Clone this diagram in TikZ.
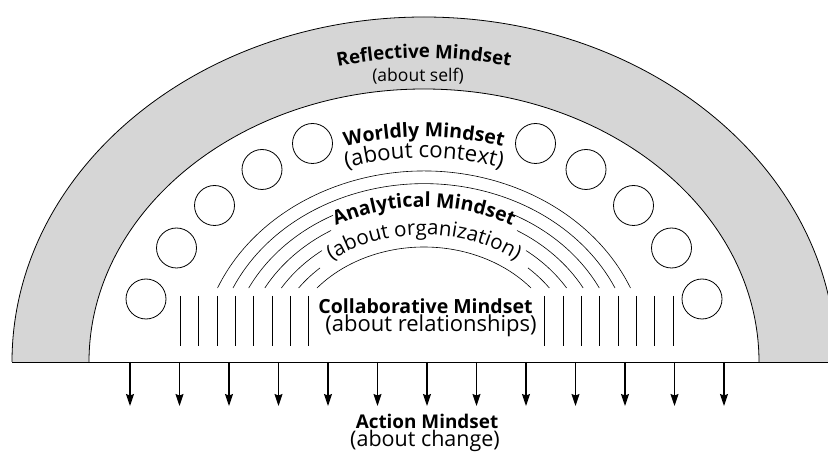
\documentclass[tikz,border=0pt]{standalone}
\usepackage{fontspec}
\setmainfont{Open Sans}
\usetikzlibrary{decorations.text,arrows.meta}
\newcommand\mindB{\bfseries\fontsize{19.5}{21}\selectfont}
\newcommand\mindBr{\bfseries\fontsize{18.7}{21}\selectfont}
\newcommand\mindBa{\bfseries\fontsize{18.9}{21}\selectfont}
\newcommand\mindR{\fontsize{21.5}{23}\selectfont}
\newcommand\mindRr{\fontsize{22}{23}\selectfont}
\newcommand\mindRc{\fontsize{22.2}{23}\selectfont}
\newcommand\mindRo{\fontsize{20.6}{22}\selectfont}
\newcommand\mindS{\fontsize{17.5}{19}\selectfont}
\begin{document}
\begin{tikzpicture}[x=1pt,y=1pt,
  band/.style={fill=black!16},
  edge/.style={line width=0.8pt},
  ring/.style={circle,draw,line width=0.8pt,minimum size=40pt,inner sep=0pt},
  tick/.style={line width=0.8pt},
  arcline/.style={line width=0.6pt},
  down/.style={line width=1.2pt,-{Stealth[length=12pt,width=8pt,inset=1.5pt]}},
  boldlbl/.style={font=\mindB,inner sep=0pt,anchor=base},
  reglbl/.style={font=\mindR,inner sep=0pt,anchor=base}
]
\useasboundingbox (0,0) rectangle (828,461);
\fill[white] (0,0) rectangle (828,461);
\clip (0,0) rectangle (828,461);
\coordinate (C) at (424,99);
\coordinate (bl) at (12,99);
\coordinate (br) at (828,99);
% grey band
\fill[band] ([xshift=-412pt]C) arc[start angle=180,end angle=0,x radius=412pt,y radius=345pt]
  -- ([xshift=335pt]C) arc[start angle=0,end angle=180,x radius=335pt,y radius=273pt] -- cycle;
\draw[edge] ([xshift=-412pt]C) arc[start angle=180,end angle=0,x radius=412pt,y radius=345pt];
\draw[edge] ([xshift=-335pt]C) arc[start angle=180,end angle=0,x radius=335pt,y radius=273pt];
\draw[edge] (bl) -- (br);
% circles
\foreach \i/\dx/\yy in {1/278/162,2/247.5/213,3/209.5/255.5,4/162/291.5,5/111.5/317.5}{
  \node[ring] (L\i) at ({424-\dx},\yy) {};
  \node[ring] (R\i) at ({424+\dx},\yy) {};
}
% vertical ticks
\foreach \x in {180,198,217,235,253,272,290,308,544,563,581,599,618,636,654,673}{
  \coordinate (t\x a) at (\x,165);
  \coordinate (t\x b) at (\x,115);
  \draw[tick] (t\x a) -- (t\x b);
}
% arrows
\foreach \i in {0,...,12}{
  \coordinate (a\i s) at ({130+49.5*\i},99);
  \coordinate (a\i e) at ({130+49.5*\i},55);
  \draw[down] (a\i s) -- (a\i e);
}
% analytical arcs
\foreach \k in {0,5,6}{
  \pgfmathsetmacro\ry{115+12.67*\k}
  \pgfmathsetmacro\rx{139.8+14.03*\k}
  \pgfmathsetmacro\ta{asin(74/\ry)}
  \draw[arcline] (C) ++({180-\ta}:\rx pt and \ry pt)
    arc[start angle={180-\ta},end angle=\ta,x radius=\rx pt,y radius=\ry pt];
}
\foreach \k/\g in {1/104,2/102,3/93,4/91}{
  \pgfmathsetmacro\ry{115+12.67*\k}
  \pgfmathsetmacro\rx{139.8+14.03*\k}
  \pgfmathsetmacro\ta{asin(74/\ry)}
  \pgfmathsetmacro\tg{acos(-\g/\rx)}
  \draw[arcline] (C) ++({180-\ta}:\rx pt and \ry pt)
    arc[start angle={180-\ta},end angle=\tg,x radius=\rx pt,y radius=\ry pt];
  \draw[arcline] (C) ++({180-\tg}:\rx pt and \ry pt)
    arc[start angle={180-\tg},end angle=\ta,x radius=\rx pt,y radius=\ry pt];
}
% curved labels
\path[decorate,decoration={text along path,text align=center,text={|\mindBr|Reflective Mindset}}]
  (C) ++(180:365pt and 304pt) arc[start angle=180,end angle=0,x radius=365pt,y radius=304pt];
\path[decorate,decoration={text along path,text align=center,text={|\mindB|Worldly Mindset}}]
  (C) ++(180:270pt and 225pt) arc[start angle=180,end angle=0,x radius=270pt,y radius=225pt];
\path[decorate,decoration={text along path,text align=center,text={|\mindRc|(about context)}}]
  (C) ++(180:246pt and 204pt) arc[start angle=180,end angle=0,x radius=246pt,y radius=204pt];
\path[decorate,decoration={text along path,text align=center,text={|\mindB|Analytical Mindset}}]
  (C) ++(180:186pt and 155pt) arc[start angle=180,end angle=0,x radius=186pt,y radius=155pt];
\path[decorate,decoration={text along path,text align=center,text={|\mindRo|(about organization)}}]
  (C) ++(180:154pt and 127pt) arc[start angle=180,end angle=0,x radius=154pt,y radius=127pt];
% straight labels
\node[reglbl,font=\mindS] (self) at (418,379) {(about self)};
\node[boldlbl] (collab) at (425.5,147) {Collaborative Mindset};
\node[reglbl,font=\mindRr] (rel) at (431,129) {(about relationships)};
\node[boldlbl,font=\mindBa] (action) at (427,32) {Action Mindset};
\node[reglbl] (change) at (425,15) {(about change)};
\end{tikzpicture}
\end{document}
